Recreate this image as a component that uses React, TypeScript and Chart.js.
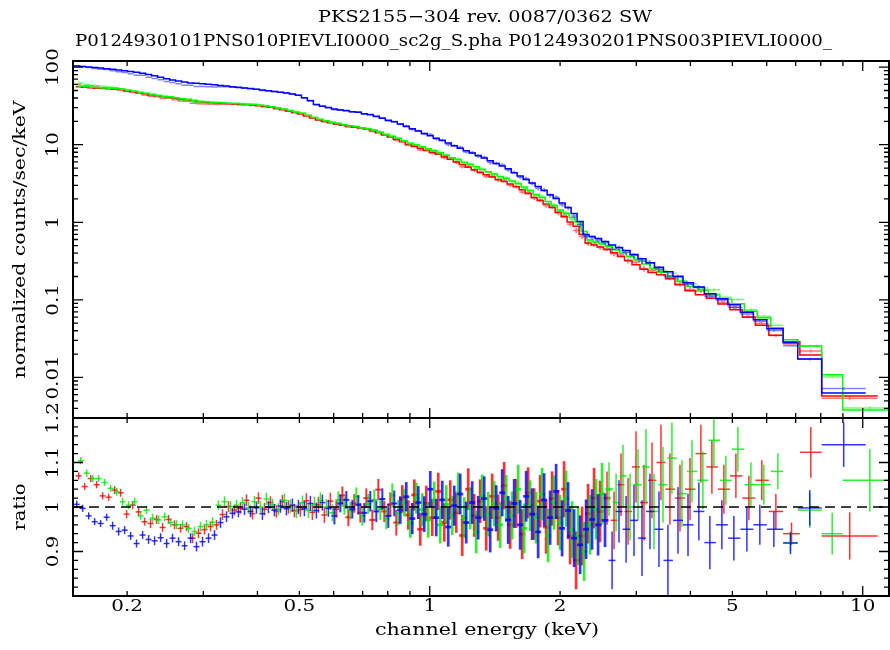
import React, { useEffect, useRef } from "react";
import { Chart, registerables } from "chart.js";

Chart.register(...registerables);

// ---------------- data ----------------
// channel-energy grids of the three spectra (keV, bin centres)
const redE = [
  0.1546, 0.1596, 0.1648, 0.1701, 0.1756, 0.1813, 0.1872, 0.1932, 0.1995, 0.2060,
  0.2126, 0.2195, 0.2266, 0.2340, 0.2416, 0.2494, 0.2574, 0.2658, 0.2744, 0.2833,
  0.2924, 0.3019, 0.3117, 0.3218, 0.3322, 0.3430, 0.3541, 0.3655, 0.3774, 0.3896,
  0.4022, 0.4152, 0.4287, 0.4426, 0.4569, 0.4717, 0.4870,
  0.5027, 0.5190, 0.5358, 0.5532, 0.5711, 0.5896, 0.6087, 0.6284, 0.6487, 0.6697,
  0.6914, 0.7138, 0.7369, 0.7608, 0.7854, 0.8109, 0.8371, 0.8642, 0.8922, 0.9211,
  0.9509, 0.9817, 1.0135, 1.0463, 1.0802, 1.1152, 1.1513, 1.1886, 1.2271, 1.2668,
  1.3078, 1.3502, 1.3939, 1.4391, 1.4857, 1.5338, 1.5835, 1.6348, 1.6877, 1.7424,
  1.7988, 1.8571, 1.9172, 1.9793, 2.0434, 2.1096, 2.1779, 2.2485, 2.3213, 2.3964, 2.4740,
  2.567, 2.665, 2.765, 2.871, 2.995, 3.125, 3.261, 3.420, 3.587, 3.784,
  3.991, 4.229, 4.484, 4.779, 5.094, 5.459, 5.848, 6.301,
];
const greenE = [
  0.1563, 0.1613, 0.1666, 0.1719, 0.1775, 0.1832, 0.1892, 0.1953, 0.2016, 0.2082,
  0.2149, 0.2218, 0.2290, 0.2365, 0.2442, 0.2521, 0.2602, 0.2686, 0.2773, 0.2863,
  0.2955, 0.3051, 0.3150, 0.3252, 0.3358, 0.3467, 0.3579, 0.3694, 0.3814, 0.3938,
  0.4065, 0.4196, 0.4333, 0.4473, 0.4618, 0.4767, 0.4922,
  0.5081, 0.5246, 0.5415, 0.5591, 0.5772, 0.5959, 0.6152, 0.6351, 0.6556, 0.6769,
  0.6988, 0.7214, 0.7448, 0.7689, 0.7938, 0.8196, 0.8461, 0.8734, 0.9017, 0.9310,
  0.9611, 0.9922, 1.0243, 1.0575, 1.0918, 1.1271, 1.1636, 1.2013, 1.2402, 1.2804,
  1.3218, 1.3646, 1.4088, 1.4545, 1.5016, 1.5502, 1.6004, 1.6523, 1.7058, 1.7610,
  1.8180, 1.8770, 1.9377, 2.0005, 2.0653, 2.1322, 2.2012, 2.2726, 2.3461, 2.4220, 2.5005,
  2.594, 2.694, 2.795, 2.902, 3.027, 3.158, 3.296, 3.457, 3.625, 3.824,
  4.034, 4.274, 4.532, 4.830, 5.149, 5.517, 5.911, 6.368,
];
const blueE = [
  0.1530, 0.1579, 0.1631, 0.1683, 0.1737, 0.1794, 0.1852, 0.1912, 0.1974, 0.2038,
  0.2103, 0.2172, 0.2242, 0.2315, 0.2390, 0.2468, 0.2547, 0.2630, 0.2715, 0.2803,
  0.2893, 0.2987, 0.3084, 0.3184, 0.3287, 0.3394, 0.3503, 0.3616, 0.3734, 0.3855,
  0.3979, 0.4108, 0.4242, 0.4379, 0.4521, 0.4667, 0.4818,
  0.4974, 0.5135, 0.5301, 0.5473, 0.5651, 0.5834, 0.6023, 0.6217, 0.6418, 0.6626,
  0.6841, 0.7062, 0.7291, 0.7527, 0.7771, 0.8023, 0.8282, 0.8550, 0.8827, 0.9114,
  0.9408, 0.9713, 1.0028, 1.0352, 1.0688, 1.1034, 1.1391, 1.1760, 1.2141, 1.2534,
  1.2940, 1.3359, 1.3791, 1.4239, 1.4700, 1.5176, 1.5667, 1.6175, 1.6698, 1.7240,
  1.7798, 1.8374, 1.8969, 1.9583, 2.0217, 2.0873, 2.1548, 2.2247, 2.2967, 2.3710, 2.4478,
  2.540, 2.637, 2.736, 2.841, 2.963, 3.092, 3.226, 3.384, 3.549, 3.744,
  3.949, 4.184, 4.436, 4.728, 5.040, 5.401, 5.786, 6.234,
];
const gridEnd = 6.55; // upper edge of the last regular bin (keV)

// ratio 1-sigma errors (same channel index in every spectrum)
const ratioErr = [
  0.008, 0.008, 0.008, 0.008, 0.008, 0.008, 0.009, 0.009, 0.009, 0.009,
  0.009, 0.009, 0.010, 0.010, 0.010, 0.010, 0.010, 0.010, 0.010, 0.011,
  0.011, 0.011, 0.011, 0.011, 0.012, 0.012, 0.012, 0.012, 0.013, 0.013,
  0.013, 0.014, 0.014, 0.014, 0.015, 0.015, 0.015,
  0.016, 0.017, 0.017, 0.018, 0.018, 0.019, 0.019, 0.020, 0.020, 0.021,
  0.022, 0.022, 0.023, 0.024, 0.024, 0.027, 0.029, 0.031, 0.033, 0.035,
  0.037, 0.040, 0.041, 0.042, 0.043, 0.044, 0.045, 0.046, 0.047, 0.048,
  0.049, 0.050, 0.051, 0.052, 0.053, 0.054, 0.055, 0.056, 0.057, 0.058,
  0.059, 0.060, 0.061, 0.062, 0.063, 0.064, 0.065, 0.066, 0.067, 0.068, 0.069,
  0.060, 0.065, 0.070, 0.075, 0.080, 0.085, 0.085, 0.085, 0.080, 0.075,
  0.070, 0.065, 0.060, 0.055, 0.050, 0.050, 0.045, 0.040,
];

// folded model (normalized counts/sec/keV)
const redModel = [
  55.8, 55.0, 54.2, 53.4, 53.0, 52.6, 51.8, 51.0, 49.5, 48.1,
  46.7, 45.3, 43.9, 42.7, 41.4, 40.8, 39.6, 38.4, 37.9, 36.8,
  35.8, 35.2, 34.7, 34.4, 34.1, 33.7, 33.5, 33.1, 32.8, 32.4,
  31.7, 31.0, 30.3, 29.4, 28.3, 27.2, 26.1,
  25.0, 23.5, 22.2, 20.8, 20.0, 19.2, 18.5, 17.8, 17.3, 16.8,
  16.4, 15.9, 15.2, 14.3, 13.4, 12.6, 11.8, 10.9, 10.1, 9.46,
  8.99, 8.45, 7.97, 7.56, 7.02, 6.50, 6.00, 5.55, 5.13, 4.77,
  4.39, 4.10, 3.83, 3.57, 3.36, 3.12, 2.87, 2.62, 2.35, 2.09,
  1.91, 1.72, 1.55, 1.35, 1.18, 1.01, 0.89, 0.70, 0.54, 0.509, 0.479,
  0.445, 0.404, 0.361, 0.321, 0.283, 0.249, 0.226, 0.211, 0.187, 0.157,
  0.131, 0.116, 0.105, 0.0887, 0.0747, 0.0596, 0.0469, 0.0350,
];
const greenModel = [
  56.7, 55.8, 55.0, 54.2, 53.8, 53.4, 52.6, 51.8, 50.3, 48.8,
  47.4, 46.0, 44.6, 43.3, 42.0, 41.4, 40.2, 39.0, 38.5, 37.4,
  36.3, 35.7, 35.2, 34.9, 34.6, 34.2, 34.0, 33.6, 33.3, 32.9,
  32.2, 31.5, 30.8, 29.8, 28.7, 27.6, 26.5,
  25.4, 23.9, 22.5, 21.1, 20.3, 19.5, 18.8, 18.1, 17.6, 17.1,
  16.6, 16.1, 15.4, 14.5, 13.6, 12.8, 12.1, 11.2, 10.5, 9.9,
  9.4, 8.84, 8.34, 7.91, 7.34, 6.80, 6.38, 5.96, 5.58, 5.21,
  4.80, 4.48, 4.19, 3.90, 3.67, 3.41, 3.14, 2.86, 2.57, 2.28,
  2.09, 1.85, 1.65, 1.44, 1.30, 1.15, 1.01, 0.76, 0.59, 0.556, 0.524,
  0.486, 0.441, 0.401, 0.363, 0.328, 0.289, 0.254, 0.227, 0.199, 0.173,
  0.149, 0.134, 0.117, 0.102, 0.0892, 0.0712, 0.0586, 0.0437,
];
const blueModel = [
  103.4, 102.1, 100.6, 99.1, 97.7, 95.6, 94.0, 92.1, 89.9, 87.8,
  85.7, 83.7, 80.2, 77.3, 74.0, 70.9, 68.4, 66.4, 64.2, 62.6,
  61.8, 61.1, 60.1, 59.1, 58.0, 57.0, 56.0, 55.0, 54.0, 53.1,
  51.9, 50.9, 49.7, 48.7, 47.5, 46.3, 44.9,
  43.3, 40.2, 36.8, 33.0, 31.3, 30.1, 28.9, 28.1, 27.4, 26.7,
  26.2, 25.0, 24.3, 23.2, 21.9, 20.7, 19.7, 18.5, 17.2, 16.1,
  15.0, 14.0, 13.05, 12.15, 11.3, 10.5, 9.7, 9.0, 8.37, 7.84,
  7.28, 6.74, 6.21, 5.74, 5.30, 4.89, 4.36, 3.96, 3.57, 3.22,
  2.90, 2.57, 2.27, 2.03, 1.77, 1.55, 1.30, 1.02, 0.695, 0.654, 0.617,
  0.564, 0.509, 0.472, 0.432, 0.384, 0.340, 0.302, 0.264, 0.231, 0.202,
  0.166, 0.146, 0.120, 0.1035, 0.0866, 0.0692, 0.0554, 0.0424,
];

// data / model ratio
const redRatio = [
  1.070, 1.046, 1.064, 1.050, 1.025, 1.022, 1.038, 1.032, 0.984, 1.004,
  0.989, 0.967, 0.963, 0.972, 0.954, 0.972, 0.960, 0.952, 0.956, 0.930,
  0.941, 0.949, 0.956, 0.960, 0.983, 1.001, 0.993, 0.997, 1.015, 0.985,
  1.020, 0.995, 1.010, 0.990, 1.012, 1.000, 0.992,
  0.994, 1.014, 0.988, 1.005, 0.982, 1.013, 0.995, 1.026, 0.977, 1.008,
  0.987, 1.020, 0.971, 1.039, 0.990, 1.006, 0.965, 1.018, 0.982, 1.027,
  0.950, 1.008, 0.976, 1.035, 0.965, 1.016, 0.987, 0.936, 1.040, 0.981,
  1.013, 0.952, 1.024, 0.976, 1.048, 0.960, 1.008, 0.939, 1.032, 0.984,
  1.013, 0.955, 1.019, 0.976, 1.040, 0.935, 0.880, 0.935, 0.985, 1.020, 0.990,
  1.02, 0.97, 1.05, 0.99, 1.09, 1.01, 1.06, 1.10, 1.04, 1.02,
  1.04, 1.12, 1.09, 1.04, 1.07, 1.02, 1.06, 0.99,
];
const greenRatio = [
  1.104, 1.076, 1.064, 1.064, 1.055, 1.042, 1.034, 1.012, 1.004, 1.012,
  0.980, 0.993, 0.975, 0.971, 0.978, 0.965, 0.960, 0.960, 0.952, 0.945,
  0.956, 0.960, 0.966, 1.004, 1.012, 1.001, 1.004, 1.010, 0.998, 1.012,
  1.000, 1.018, 1.005, 0.995, 1.015, 1.002, 0.990,
  1.010, 0.992, 1.006, 1.015, 1.000, 0.987, 1.016, 1.003, 0.992, 1.023,
  0.980, 1.007, 1.016, 0.995, 0.974, 1.026, 0.987, 1.010, 0.964, 1.020,
  0.994, 0.971, 1.016, 0.960, 1.006, 0.981, 1.032, 0.976, 0.997, 0.944,
  1.024, 0.984, 1.008, 0.960, 1.019, 0.981, 1.040, 0.952, 1.003, 0.976,
  1.029, 0.936, 1.010, 0.965, 1.019, 0.949, 0.935, 0.900, 0.960, 0.995, 1.030,
  1.04, 1.01, 1.07, 1.00, 1.05, 1.09, 0.99, 1.05, 1.11, 1.03,
  1.08, 1.06, 1.15, 1.06, 1.13, 1.05, 1.05, 1.08,
];
const blueRatio = [
  1.006, 0.997, 0.980, 0.967, 0.963, 0.977, 0.958, 0.945, 0.948, 0.935,
  0.918, 0.937, 0.927, 0.924, 0.931, 0.918, 0.930, 0.922, 0.913, 0.930,
  0.911, 0.922, 0.930, 0.937, 0.965, 0.978, 0.986, 0.989, 0.995, 0.990,
  0.998, 0.985, 1.000, 0.993, 1.002, 0.996, 1.004,
  1.000, 0.996, 1.008, 0.992, 1.010, 0.997, 0.980, 1.008, 1.016, 0.995,
  1.005, 0.987, 1.013, 0.990, 1.018, 0.980, 1.008, 0.993, 1.023, 0.974,
  1.010, 0.984, 1.040, 0.976, 1.016, 0.955, 1.003, 1.029, 0.965, 1.010,
  0.976, 1.019, 0.949, 0.997, 1.032, 0.971, 1.008, 0.960, 1.024, 0.984,
  0.944, 1.016, 0.976, 1.035, 0.952, 0.992, 0.930, 0.915, 0.950, 0.972, 0.960,
  0.97, 0.88, 0.99, 0.95, 0.97, 0.93, 0.99, 0.95, 0.88, 0.97,
  0.96, 0.99, 0.92, 0.96, 0.93, 0.95, 0.96, 0.95,
];

// wide high-energy bins of each spectrum
const redTailEdges = [6.55, 7.16, 8.04, 10.83];
const redTailModel = [0.0288, 0.0195, 0.00577];
const redTailRatio = [0.94, 1.123, 0.935];
const redTailErr = [0.025, 0.057, 0.053];

const greenTailEdges = [6.55, 7.08, 8.04, 8.99, 12.0];
const greenTailModel = [0.0305, 0.0255, 0.0108, 0.0038];
const greenTailRatio = [0.92, 0.993, 0.94, 1.06];
const greenTailErr = [0.02, 0.04, 0.047, 0.07];

const blueTailEdges = [6.55, 7.08, 8.04, 10.16];
const blueTailModel = [0.0279, 0.0173, 0.0063];
const blueTailRatio = [0.919, 0.998, 1.14];
const blueTailErr = [0.025, 0.04, 0.05];

// axes
const X_MIN = 0.15;
const X_MAX = 11.5;
const TOP_MIN = 0.003;
const TOP_MAX = 120;
const RATIO_MIN = 0.8;
const RATIO_MAX = 1.2;

const xMajorTicks = [1, 10];
const xMinorTicks = [0.2, 0.3, 0.4, 0.5, 0.6, 0.7, 0.8, 0.9, 2, 3, 4, 5, 6, 7, 8, 9];
const xTickLabels = [0.2, 0.5, 1, 2, 5, 10];
const topMajorTicks = [0.01, 0.1, 1, 10, 100];
const topMinorTicks = [
  0.003, 0.004, 0.005, 0.006, 0.007, 0.008, 0.009,
  0.02, 0.03, 0.04, 0.05, 0.06, 0.07, 0.08, 0.09,
  0.2, 0.3, 0.4, 0.5, 0.6, 0.7, 0.8, 0.9,
  2, 3, 4, 5, 6, 7, 8, 9,
  20, 30, 40, 50, 60, 70, 80, 90,
];
const topTickLabels = ["0.01", "0.1", "1", "10", "100"];
const ratioMajorTicks = [0.8, 0.9, 1, 1.1, 1.2];
const ratioMinorTicks = [
  0.82, 0.84, 0.86, 0.88, 0.92, 0.94, 0.96, 0.98,
  1.02, 1.04, 1.06, 1.08, 1.12, 1.14, 1.16, 1.18,
];
const ratioTickLabels = ["0.9", "1", "1.1", "1.2"];
const ratioTickValues = [0.9, 1, 1.1, 1.2];

const titleLine1 = "PKS2155\u2212304 rev. 0087/0362 SW";
const titleLine2 = "P0124930101PNS010PIEVLI0000_sc2g_S.pha P0124930201PNS003PIEVLI0000_";
const topYTitle = "normalized counts/sec/keV";
const ratioYTitle = "ratio";
const xTitle = "channel energy (keV)";

// ---------------- helpers ----------------
type Bin = { lo: number; hi: number; e: number; m: number; r: number; err: number };

function buildBins(
  E: number[],
  model: number[],
  ratio: number[],
  tEdges: number[],
  tModel: number[],
  tRatio: number[],
  tErr: number[]
): Bin[] {
  const bins: Bin[] = [];
  const n = E.length;
  for (let i = 0; i < n; i++) {
    const e = E[i];
    const lo = i === 0 ? e / Math.sqrt(E[1] / E[0]) : Math.sqrt(E[i - 1] * e);
    const hi = i === n - 1 ? gridEnd : Math.sqrt(e * E[i + 1]);
    bins.push({ lo, hi, e, m: model[i], r: ratio[i], err: ratioErr[i] });
  }
  for (let j = 0; j < tModel.length; j++) {
    const lo = tEdges[j];
    const hi = tEdges[j + 1];
    bins.push({ lo, hi, e: Math.sqrt(lo * hi), m: tModel[j], r: tRatio[j], err: tErr[j] });
  }
  return bins;
}

type Pt = { x: number; y: number | null };

function stepPoints(bins: Bin[]): Pt[] {
  const pts: Pt[] = [];
  bins.forEach((b) => {
    pts.push({ x: b.lo, y: b.m }, { x: b.hi, y: b.m });
  });
  return pts;
}

function crossPoints(bins: Bin[], scaleByModel: boolean): Pt[] {
  const pts: Pt[] = [];
  bins.forEach((b) => {
    const k = scaleByModel ? b.m : 1;
    const y = k * b.r;
    pts.push({ x: b.lo, y }, { x: b.hi, y }, { x: b.hi, y: null });
    pts.push({ x: b.e, y: k * (b.r - b.err) }, { x: b.e, y: k * (b.r + b.err) }, { x: b.e, y: null });
  });
  return pts;
}

const FONT_FAMILY = '"DejaVu Serif", "Liberation Serif", serif';
const FONT_SIZE = 17;
const TEXT_STRETCH = 1.17;

function drawText(
  ctx: CanvasRenderingContext2D,
  text: string,
  x: number,
  y: number,
  align: CanvasTextAlign,
  rotate: boolean,
  fitWidth?: number
) {
  ctx.save();
  ctx.font = `${FONT_SIZE}px ${FONT_FAMILY}`;
  let sx = TEXT_STRETCH;
  if (fitWidth) {
    const w = ctx.measureText(text).width;
    if (w > 0) sx = fitWidth / w;
  }
  ctx.translate(x, y);
  if (rotate) ctx.rotate(-Math.PI / 2);
  ctx.scale(sx, 1);
  ctx.fillStyle = "#000";
  ctx.textAlign = align;
  ctx.textBaseline = "middle";
  ctx.fillText(text, 0, 0);
  ctx.restore();
}

function drawFrameAndTicks(chart: any, yMajor: number[], yMinor: number[]) {
  const ctx: CanvasRenderingContext2D = chart.ctx;
  const a = chart.chartArea;
  const xs = chart.scales.x;
  const ys = chart.scales.y;
  ctx.save();
  ctx.strokeStyle = "#000";
  ctx.lineWidth = 1.3;
  ctx.beginPath();
  const xt = (vals: number[], len: number) =>
    vals.forEach((v) => {
      const p = xs.getPixelForValue(v);
      if (p < a.left - 0.5 || p > a.right + 0.5) return;
      ctx.moveTo(p, a.bottom);
      ctx.lineTo(p, a.bottom - len);
      ctx.moveTo(p, a.top);
      ctx.lineTo(p, a.top + len);
    });
  const yt = (vals: number[], len: number) =>
    vals.forEach((v) => {
      const p = ys.getPixelForValue(v);
      if (p < a.top - 0.5 || p > a.bottom + 0.5) return;
      ctx.moveTo(a.left, p);
      ctx.lineTo(a.left + len, p);
      ctx.moveTo(a.right, p);
      ctx.lineTo(a.right - len, p);
    });
  xt(xMajorTicks, 10);
  xt(xMinorTicks, 5);
  yt(yMajor, 10);
  yt(yMinor, 5);
  ctx.stroke();
  ctx.lineWidth = 2;
  ctx.strokeRect(a.left, a.top, a.right - a.left, a.bottom - a.top);
  ctx.restore();
}

const topDecor = {
  id: "topDecor",
  afterDraw(chart: any) {
    const ctx = chart.ctx;
    const a = chart.chartArea;
    const ys = chart.scales.y;
    drawFrameAndTicks(chart, topMajorTicks, topMinorTicks);
    topMajorTicks.forEach((v, i) => {
      drawText(ctx, topTickLabels[i], 54, ys.getPixelForValue(v), "center", true);
    });
    drawText(ctx, topYTitle, 21, (a.top + a.bottom) / 2, "center", true, 278);
    drawText(ctx, titleLine1, 485, 18, "center", false, 334);
    drawText(ctx, titleLine2, 75, 42, "left", false, 757);
  },
};

const bottomDecor = {
  id: "bottomDecor",
  afterDraw(chart: any) {
    const ctx = chart.ctx;
    const a = chart.chartArea;
    const xs = chart.scales.x;
    const ys = chart.scales.y;
    drawFrameAndTicks(chart, ratioMajorTicks, ratioMinorTicks);
    ratioTickValues.forEach((v, i) => {
      drawText(ctx, ratioTickLabels[i], 54, ys.getPixelForValue(v), "center", true);
    });
    xTickLabels.forEach((v) => {
      drawText(ctx, String(v), xs.getPixelForValue(v), 607, "center", false);
    });
    drawText(ctx, xTitle, 487, 631, "center", false, 224);
    drawText(ctx, ratioYTitle, 21, (a.top + a.bottom) / 2, "center", true, 47);
  },
};

const RED = "#ff0000";
const GREEN = "#00ff00";
const BLUE = "#0000ff";

function lineSet(data: Pt[], color: string, width: number, order: number, extra: any = {}) {
  return {
    type: "line",
    data,
    borderColor: color,
    backgroundColor: color,
    borderWidth: width,
    pointRadius: 0,
    pointHoverRadius: 0,
    fill: false,
    tension: 0,
    spanGaps: false,
    clip: 0,
    order,
    ...extra,
  };
}

// thicker bars where the channels are densely packed
const denseSegment = {
  borderWidth: (c: any) => {
    const x = c.p0 && c.p0.parsed ? c.p0.parsed.x : 0;
    if (x > 0.85 && x < 2.55) return 2.7;
    if (x > 0.6 && x <= 0.85) return 2.0;
    return 1.5;
  },
};

export default function App() {
  const topRef = useRef<HTMLCanvasElement | null>(null);
  const botRef = useRef<HTMLCanvasElement | null>(null);

  useEffect(() => {
    const redBins = buildBins(redE, redModel, redRatio, redTailEdges, redTailModel, redTailRatio, redTailErr);
    const greenBins = buildBins(greenE, greenModel, greenRatio, greenTailEdges, greenTailModel, greenTailRatio, greenTailErr);
    const blueBins = buildBins(blueE, blueModel, blueRatio, blueTailEdges, blueTailModel, blueTailRatio, blueTailErr);

    const common = {
      animation: false as const,
      responsive: false,
      devicePixelRatio: 1,
      events: [] as any[],
      plugins: { legend: { display: false }, tooltip: { enabled: false } },
    };

    const topChart = new Chart(topRef.current as HTMLCanvasElement, {
      type: "line",
      data: {
        datasets: [
          lineSet(crossPoints(redBins, true), "rgba(255,0,0,0.55)", 1.5, 6),
          lineSet(stepPoints(redBins), RED, 1.5, 5),
          lineSet(crossPoints(greenBins, true), "rgba(0,255,0,0.55)", 1.5, 4),
          lineSet(stepPoints(greenBins), GREEN, 1.5, 3),
          lineSet(crossPoints(blueBins, true), "rgba(0,0,255,0.5)", 1.5, 2),
          lineSet(stepPoints(blueBins), BLUE, 1.5, 1),
        ] as any,
      },
      options: {
        ...common,
        layout: { padding: { left: 73, right: 1, top: 61, bottom: 650 - 418 } },
        scales: {
          x: { type: "logarithmic", min: X_MIN, max: X_MAX, bounds: "data", display: false },
          y: { type: "logarithmic", min: TOP_MIN, max: TOP_MAX, bounds: "data", display: false },
        },
      } as any,
      plugins: [topDecor],
    });

    const botChart = new Chart(botRef.current as HTMLCanvasElement, {
      type: "line",
      data: {
        datasets: [
          lineSet(crossPoints(redBins, false), "rgba(255,0,0,0.8)", 1.5, 3, { segment: denseSegment }),
          lineSet(crossPoints(greenBins, false), "rgba(0,230,0,0.8)", 1.5, 2, { segment: denseSegment }),
          lineSet(crossPoints(blueBins, false), "rgba(0,0,255,0.8)", 1.5, 1, { segment: denseSegment }),
          lineSet(
            [
              { x: X_MIN, y: 1 },
              { x: X_MAX, y: 1 },
            ],
            "#000",
            1.5,
            0,
            { borderDash: [10, 6] }
          ),
        ] as any,
      },
      options: {
        ...common,
        layout: { padding: { left: 73, right: 1, top: 418, bottom: 650 - 596 } },
        scales: {
          x: { type: "logarithmic", min: X_MIN, max: X_MAX, bounds: "data", display: false },
          y: { type: "linear", min: RATIO_MIN, max: RATIO_MAX, bounds: "data", display: false },
        },
      } as any,
      plugins: [bottomDecor],
    });

    return () => {
      topChart.destroy();
      botChart.destroy();
    };
  }, []);

  return (
    <div style={{ position: "absolute", left: 0, top: 0, width: 890, height: 650, background: "#fff" }}>
      <canvas ref={topRef} width={890} height={650} style={{ position: "absolute", left: 0, top: 0 }} />
      <canvas ref={botRef} width={890} height={650} style={{ position: "absolute", left: 0, top: 0 }} />
    </div>
  );
}
